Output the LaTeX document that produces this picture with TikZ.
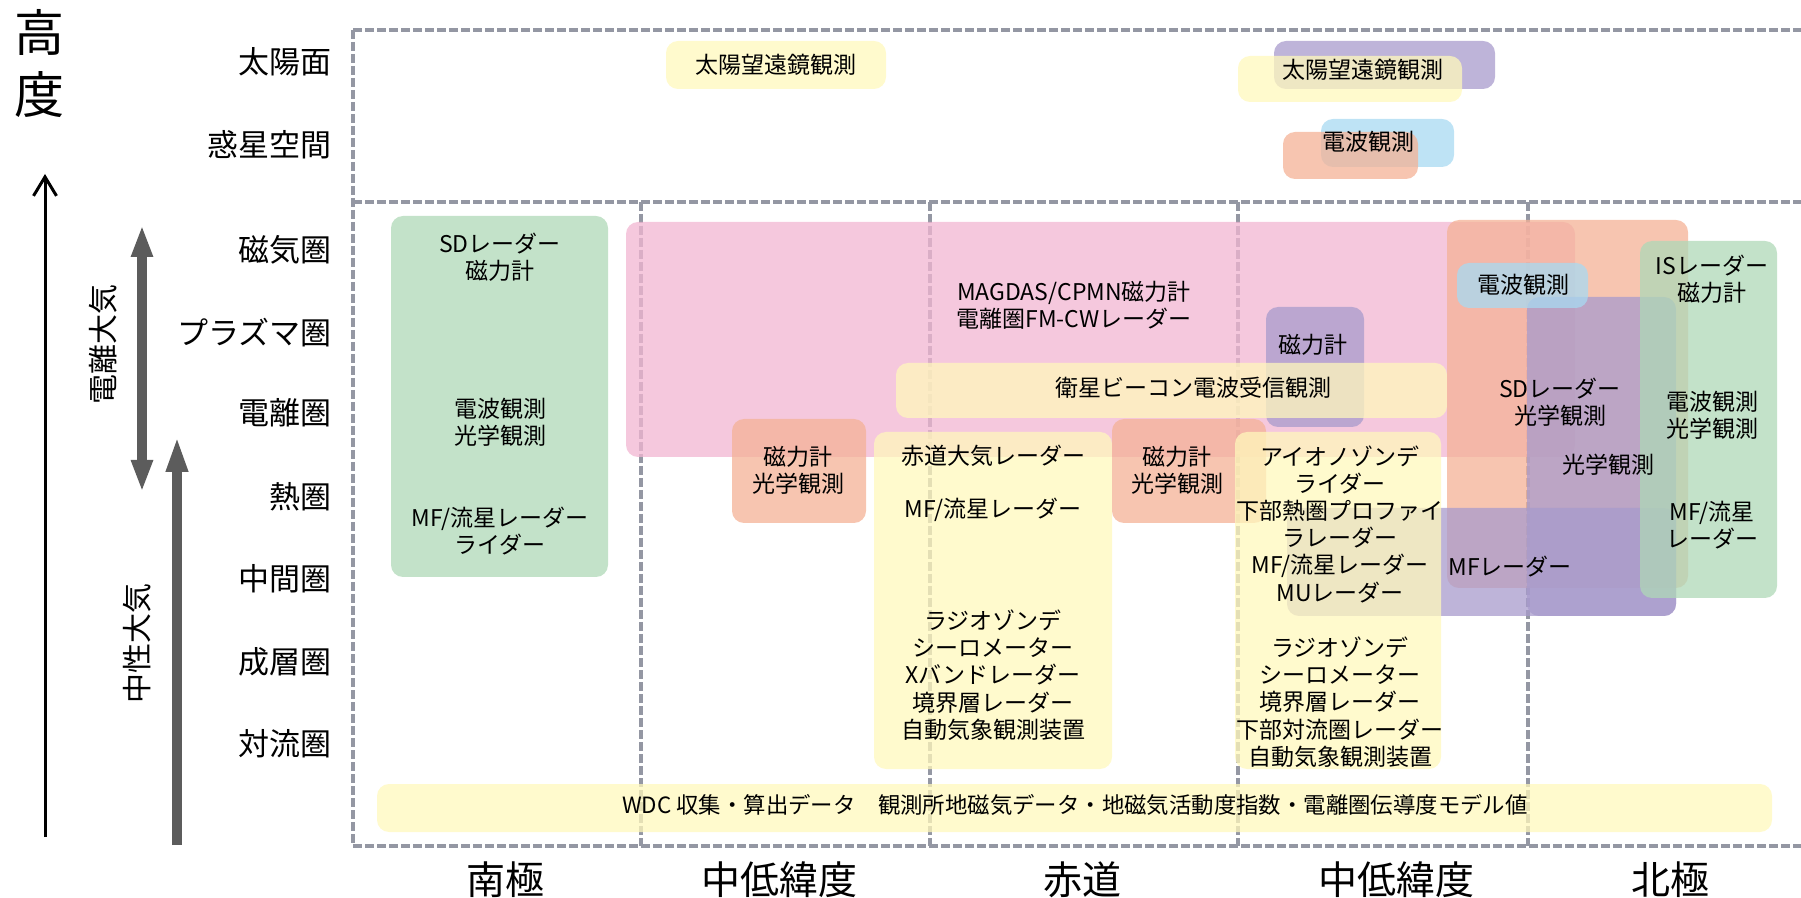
\documentclass[tikz,border=0pt]{standalone}
\usepackage{fontspec}
\setmainfont{Noto Sans CJK JP}
\usetikzlibrary{arrows.meta}
\definecolor{cYel}{HTML}{FFF8BC}
\definecolor{cPink}{HTML}{F2B6D2}
\definecolor{cPur}{HTML}{A89BCC}
\definecolor{cBlue}{HTML}{A8DAF2}
\definecolor{cOra}{HTML}{F4B296}
\definecolor{cGrn}{HTML}{AFD8B7}
\definecolor{cFrame}{HTML}{9497A3}
\definecolor{cArrow}{HTML}{5C5C5C}
\begin{document}
\begin{tikzpicture}[x=0.5pt,y=-0.5pt,
  frameline/.style={draw=cFrame, line width=1.75pt, dash pattern=on 4.5pt off 1.5pt},
  box/.style={fill opacity=0.75, rounded corners=6pt},
  boxY/.style={box, fill=cYel},
  boxP/.style={box, fill=cPink},
  boxV/.style={box, fill=cPur},
  boxB/.style={box, fill=cBlue},
  boxO/.style={box, fill=cOra},
  boxG/.style={box, fill=cGrn},
  txt/.style={inner sep=0pt, align=center, font=\fontsize{11.5}{13.6}\selectfont},
  axlbl/.style={inner sep=0pt, anchor=east, font=\fontsize{15.5}{18}\selectfont},
  collbl/.style={inner sep=0pt, font=\fontsize{19.5}{22}\selectfont},
  sidelbl/.style={inner sep=0pt, rotate=90, font=\fontsize{15}{18}\selectfont},
  grayarrow/.style={draw=cArrow, line width=5pt},
]
\useasboundingbox (0,0) rectangle (1801,898);

% ---- dashed frame ----
\draw[frameline] (353,30) -- (1801,30);
\draw[frameline] (353,202) -- (1801,202);
\draw[frameline] (353,846) -- (1801,846);
\draw[frameline] (353,30) -- (353,846);
\foreach \cx in {641,930,1238,1528} \draw[frameline] (\cx,202) -- (\cx,846);

% ---- boxes ----
\fill[boxY] (666,41) rectangle (886,89);
\fill[boxV] (1274,41) rectangle (1495,89);
\fill[boxY] (1238,56) rectangle (1462,102);
\fill[boxB] (1321,119) rectangle (1454,167);
\fill[boxO] (1283,132) rectangle (1418,179);
\fill[boxG] (391,216) rectangle (608,577);
\fill[boxP] (626,222) rectangle (1575,457);
\fill[boxV] (1266,307) rectangle (1364,427);
\fill[boxY] (896,363) rectangle (1447,418);
\fill[boxO] (732,419) rectangle (866,523);
\fill[boxY] (874,432) rectangle (1112,769);
\fill[boxO] (1112,419) rectangle (1266,523);
\fill[boxO] (1447,220) rectangle (1688,588);
\fill[boxV] (1527,297) rectangle (1676,616);
\fill[boxV] (1287,508) rectangle (1676,616);
\fill[boxY] (1235,432) rectangle (1441,769);
\fill[boxG] (1640,241) rectangle (1777,598);
\fill[boxB] (1457,263) rectangle (1588,308);
\fill[boxY] (377,784) rectangle (1772,832);

% ---- box texts ----
\node[txt] (tSunL) at (776,65) {太陽望遠鏡観測};
\node[txt] (tSunR) at (1363,70) {太陽望遠鏡観測};
\node[txt] (tRadSp) at (1368,142) {電波観測};
\node[txt] (tS1) at (500,257) {SDレーダー\\磁力計};
\node[txt] (tS2) at (500,422) {電波観測\\光学観測};
\node[txt] (tS3) at (500,531) {MF/流星レーダー\\ライダー};
\node[txt] (tMag) at (1074,305) {MAGDAS/CPMN磁力計\\電離圏FM-CWレーダー};
\node[txt] (tMagN) at (1313,345) {磁力計};
\node[txt] (tBeacon) at (1193,388) {衛星ビーコン電波受信観測};
\node[txt] (tOL) at (798,470) {磁力計\\光学観測};
\node[txt] (tOR) at (1177,470) {磁力計\\光学観測};
\node[txt] (tEq1) at (993,456) {赤道大気レーダー};
\node[txt] (tEq2) at (993,510) {MF/流星レーダー};
\node[txt] (tEq3) at (993,675) {ラジオゾンデ\\シーロメーター\\Xバンドレーダー\\境界層レーダー\\自動気象観測装置};
\node[txt] (tMid1) at (1340,524) {アイオノゾンデ\\ライダー\\下部熱圏プロファイ\\ラレーダー\\MF/流星レーダー\\MUレーダー};
\node[txt] (tMid2) at (1340,702) {ラジオゾンデ\\シーロメーター\\境界層レーダー\\下部対流圏レーダー\\自動気象観測装置};
\node[txt] (tRadN) at (1523,285) {電波観測};
\node[txt] (tSDN) at (1560,402) {SDレーダー\\光学観測};
\node[txt] (tOptN) at (1608,465) {光学観測};
\node[txt] (tMFN) at (1510,567) {MFレーダー};
\node[txt] (tG1) at (1712,279) {ISレーダー\\磁力計};
\node[txt] (tG2) at (1712,415) {電波観測\\光学観測};
\node[txt] (tG3) at (1712,525) {MF/流星\\レーダー};
\node[txt, font=\fontsize{11.2}{13.6}\selectfont] (tWDC) at (1075,805) {WDC 収集・算出データ　観測所地磁気データ・地磁気活動度指数・電離圏伝導度モデル値};

% ---- altitude labels ----
\node[axlbl] (a1) at (332,62) {太陽面};
\node[axlbl] (a2) at (332,145) {惑星空間};
\node[axlbl] (a3) at (332,250) {磁気圏};
\node[axlbl] (a4) at (332,333) {プラズマ圏};
\node[axlbl] (a5) at (332,413) {電離圏};
\node[axlbl] (a6) at (332,497) {熱圏};
\node[axlbl] (a7) at (332,579) {中間圏};
\node[axlbl] (a8) at (332,662) {成層圏};
\node[axlbl] (a9) at (332,744) {対流圏};

% ---- latitude labels ----
\node[collbl] (c1) at (505,880) {南極};
\node[collbl] (c2) at (779,880) {中低緯度};
\node[collbl] (c3) at (1082,880) {赤道};
\node[collbl] (c4) at (1396,880) {中低緯度};
\node[collbl] (c5) at (1670,880) {北極};

% ---- height axis ----
\node[inner sep=0pt, align=center, font=\fontsize{25}{31}\selectfont] (hd) at (40,64) {高\\度};
\coordinate (blkS) at (45,837);
\coordinate (blkN) at (45,174);
\draw[line width=1.5pt, -{Straight Barb[length=9.5pt,width=11.5pt]}] (blkS) -- (blkN);

\coordinate (ionN) at (142,225);
\coordinate (ionS) at (142,492);
\draw[grayarrow, {Triangle[length=16pt,width=10pt]}-{Triangle[length=16pt,width=10pt]}] (ionN) -- (ionS);
\coordinate (neuS) at (177,845);
\coordinate (neuN) at (177,436);
\draw[grayarrow, -{Triangle[length=18pt,width=10pt]}] (neuS) -- (neuN);

\node[sidelbl] (lIon) at (103,345) {電離大気};
\node[sidelbl] (lNeu) at (137,644) {中性大気};
\end{tikzpicture}
\end{document}
